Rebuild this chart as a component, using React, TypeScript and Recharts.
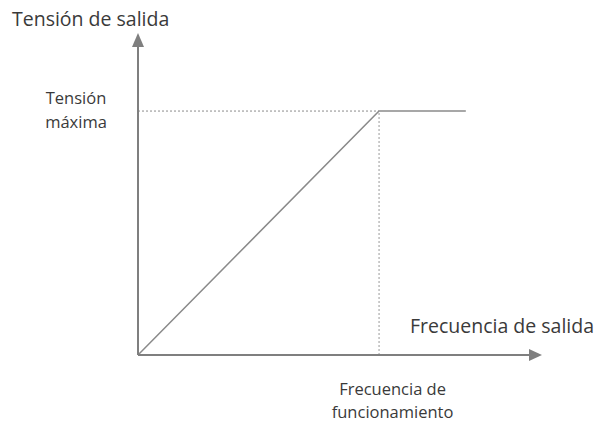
import React from "react";
import { LineChart, Line, XAxis, YAxis, ReferenceLine } from "recharts";

// Data (normalized units)
const frequency = [0, 1, 1.36];
const voltage = [0, 1, 1];
const xTickValues = [1];
const yTickValues = [1];
const xTickLines = ["Frecuencia de", "funcionamiento"];
const yTickLines = ["Tensión", "máxima"];
const xTitle = "Frecuencia de salida";
const yTitle = "Tensión de salida";
const xMax = 1.676;
const yMax = 1.32;

const data = frequency.map((f, i) => ({ f, v: voltage[i] }));

const FONT = "'Open Sans', 'Noto Sans', sans-serif";
const TEXT = "#3a3a3a";
const AXIS = "#7f7f7f";

const XArrow = (props: any) => {
  const { x1, y1, x2 } = props;
  const head = 13;
  return (
    <g>
      <line x1={x1} y1={y1} x2={x2 - head} y2={y1} stroke={AXIS} strokeWidth={2} />
      <polygon points={`${x2},${y1} ${x2 - head},${y1 - 6} ${x2 - head},${y1 + 6}`} fill={AXIS} />
    </g>
  );
};

const YArrow = (props: any) => {
  const { x1, y1, y2 } = props;
  const top = Math.min(y1, y2);
  const bottom = Math.max(y1, y2);
  const head = 14;
  return (
    <g>
      <line x1={x1} y1={bottom} x2={x1} y2={top + head} stroke={AXIS} strokeWidth={2} />
      <polygon points={`${x1},${top} ${x1 - 6},${top + head} ${x1 + 6},${top + head}`} fill={AXIS} />
    </g>
  );
};

const XTick = (props: any) => {
  const { x } = props;
  return (
    <g>
      {xTickLines.map((t, i) => (
        <text key={i} x={x + 13.5} y={395 + i * 22.7} textAnchor="middle" fontFamily={FONT} fontSize={16.5} fill={TEXT}>
          {t}
        </text>
      ))}
    </g>
  );
};

const YTick = (props: any) => {
  const { y } = props;
  return (
    <g>
      {yTickLines.map((t, i) => (
        <text key={i} x={76} y={y - 7 + i * 23.7} textAnchor="middle" fontFamily={FONT} fontSize={16.5} fill={TEXT}>
          {t}
        </text>
      ))}
    </g>
  );
};

export default function App() {
  return (
    <div style={{ position: "absolute", left: 0, top: 0, width: 606, height: 423, background: "#fff" }}>
      <LineChart
        width={606}
        height={423}
        data={data}
        margin={{ top: 33, right: 64, bottom: 0, left: 8 }}
      >
        <XAxis
          type="number"
          dataKey="f"
          domain={[0, xMax]}
          ticks={xTickValues}
          axisLine={false}
          tickLine={false}
          height={68}
          tick={<XTick />}
          interval={0}
        />
        <YAxis
          type="number"
          domain={[0, yMax]}
          ticks={yTickValues}
          axisLine={false}
          tickLine={false}
          width={130}
          tick={<YTick />}
          interval={0}
        />
        <ReferenceLine
          segment={[{ x: 0, y: 1 }, { x: 1, y: 1 }]}
          stroke="#8a8a8a"
          strokeWidth={1}
          strokeDasharray="2 2"
        />
        <ReferenceLine
          segment={[{ x: 1, y: 0 }, { x: 1, y: 1 }]}
          stroke="#9a9a9a"
          strokeWidth={1}
          strokeDasharray="2 2"
        />
        <Line
          type="linear"
          dataKey="v"
          stroke="#8a8a8a"
          strokeWidth={1.5}
          dot={false}
          isAnimationActive={false}
        />
        <ReferenceLine segment={[{ x: 0, y: 0 }, { x: xMax, y: 0 }]} shape={<XArrow />} />
        <ReferenceLine segment={[{ x: 0, y: 0 }, { x: 0, y: yMax }]} shape={<YArrow />} />
      </LineChart>
      <svg
        width={606}
        height={423}
        style={{ position: "absolute", left: 0, top: 0, pointerEvents: "none" }}
      >
        <text x={12} y={26} fontFamily={FONT} fontSize={19.5} fill={TEXT}>
          {yTitle}
        </text>
        <text x={410} y={333} fontFamily={FONT} fontSize={19.5} fill={TEXT}>
          {xTitle}
        </text>
      </svg>
    </div>
  );
}
